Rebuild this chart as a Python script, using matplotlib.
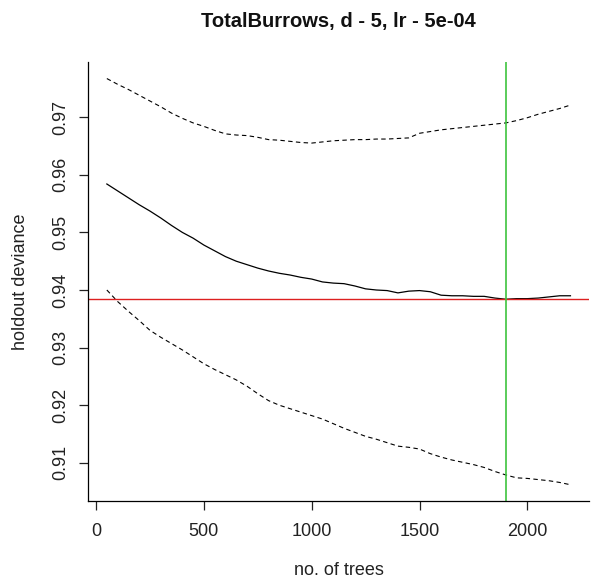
import numpy as np
import matplotlib.pyplot as plt

plt.rcParams['font.family'] = ['Liberation Sans', 'DejaVu Sans']

# holdout deviance by number of trees (mean and mean +/- se)
n_trees = np.arange(50, 2201, 50)

dev_mean = [0.9584, 0.9572, 0.9560, 0.9548, 0.9537, 0.9525, 0.9512, 0.9500,
            0.9490, 0.9478, 0.9468, 0.9458, 0.9450, 0.9444, 0.9438, 0.9433,
            0.9429, 0.9426, 0.9422, 0.9419, 0.9414, 0.9412, 0.9411, 0.9407,
            0.9402, 0.9400, 0.9399, 0.9395, 0.9398, 0.9399, 0.9397, 0.9391,
            0.9390, 0.9390, 0.9389, 0.9389, 0.9386, 0.9384, 0.9385, 0.9385,
            0.9386, 0.9388, 0.9390, 0.9390]

dev_upper = [0.9767, 0.9757, 0.9748, 0.9738, 0.9728, 0.9718, 0.9707, 0.9698,
             0.9690, 0.9684, 0.9677, 0.9671, 0.9669, 0.9668, 0.9665, 0.9661,
             0.9660, 0.9658, 0.9656, 0.9655, 0.9657, 0.9659, 0.9660, 0.9661,
             0.9661, 0.9662, 0.9662, 0.9663, 0.9664, 0.9672, 0.9675, 0.9678,
             0.9680, 0.9682, 0.9684, 0.9686, 0.9688, 0.9690, 0.9694, 0.9699,
             0.9705, 0.9710, 0.9715, 0.9721]

dev_lower = [0.9400, 0.9380, 0.9363, 0.9347, 0.9330, 0.9318, 0.9307, 0.9296,
             0.9284, 0.9272, 0.9262, 0.9253, 0.9244, 0.9233, 0.9220, 0.9208,
             0.9200, 0.9194, 0.9188, 0.9182, 0.9176, 0.9168, 0.9160, 0.9153,
             0.9146, 0.9141, 0.9135, 0.9129, 0.9127, 0.9124, 0.9116, 0.9110,
             0.9105, 0.9101, 0.9097, 0.9092, 0.9085, 0.9079, 0.9074, 0.9073,
             0.9071, 0.9069, 0.9066, 0.9062]

x_ticks = [0, 500, 1000, 1500, 2000]
y_ticks = [0.91, 0.92, 0.93, 0.94, 0.95, 0.96, 0.97]

fig = plt.figure(figsize=(5.91, 5.82), dpi=100)
ax = fig.add_axes([88.3 / 591, 1 - 501 / 582, (589 - 88.3) / 591, (501 - 62.3) / 582])

ax.plot(n_trees, dev_mean, color='black', lw=0.9)
ax.plot(n_trees, dev_upper, color='black', lw=0.8, linestyle=(0, (4, 3)))
ax.plot(n_trees, dev_lower, color='black', lw=0.8, linestyle=(0, (4, 3)))

# best number of trees = minimum mean deviance
best = int(np.argmin(dev_mean))
ax.axhline(dev_mean[best], color='#dd2020', lw=1.0)
ax.axvline(n_trees[best], color='#3ec43e', lw=1.2)

# R-style axis range: data range padded by 4%
def padded(lo, hi):
    d = (hi - lo) * 0.04
    return lo - d, hi + d

ax.set_xlim(*padded(n_trees[0], n_trees[-1]))
ax.set_ylim(*padded(min(dev_lower), max(dev_upper)))

ax.set_xticks(x_ticks)
ax.set_yticks(y_ticks)
ax.set_yticklabels([f'{v:.2f}' for v in y_ticks], rotation=90, va='center')
ax.tick_params(axis='both', length=6.5, width=0.9, labelsize=13, colors='#222222')
ax.tick_params(axis='x', pad=9)
ax.tick_params(axis='y', pad=7)

for s in ['top', 'right']:
    ax.spines[s].set_visible(False)
for s in ['left', 'bottom']:
    ax.spines[s].set_linewidth(0.9)

ax.set_xlabel('no. of trees', fontsize=13, color='#222222', labelpad=16)
ax.set_ylabel('holdout deviance', fontsize=13, color='#222222', labelpad=17)
fig.text(338 / 591, 1 - 21 / 582, 'TotalBurrows, d - 5, lr - 5e-04',
         ha='center', va='center', fontsize=14.5, fontweight='bold', color='#111111')

fig.savefig('out.png', dpi=100)
